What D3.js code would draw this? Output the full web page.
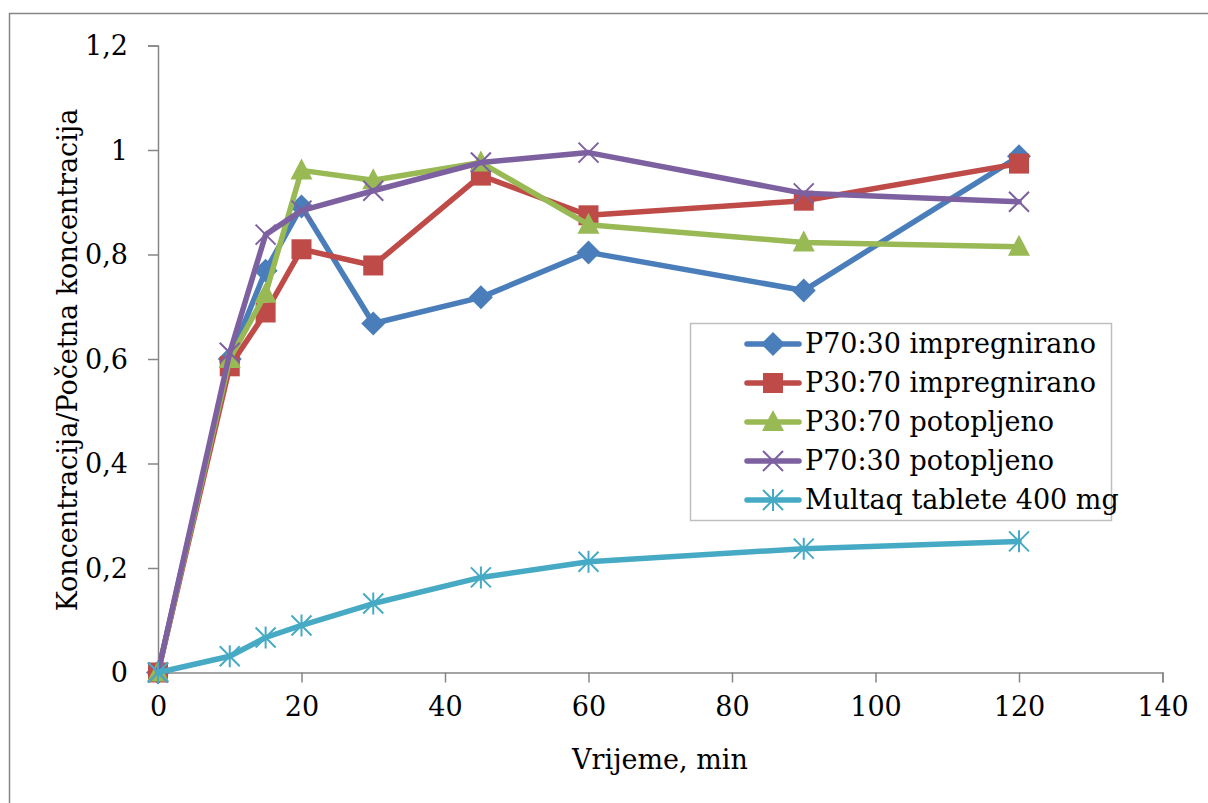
<!DOCTYPE html>
<html>
<head>
<meta charset="utf-8">
<script src="https://cdn.jsdelivr.net/npm/d3@7"></script>
<style>
  html, body { margin: 0; padding: 0; background: #fff; }
  svg text { font-family: "DejaVu Serif", "Liberation Serif", serif; fill: #000; }
</style>
</head>
<body>
<svg id="chart" width="1208" height="803"></svg>
<script>
// Sampling times (min)
const times = [0, 10, 15, 20, 30, 45, 60, 90, 120];

// Series names
const seriesNames = [
  "P70:30 impregnirano",
  "P30:70 impregnirano",
  "P30:70 potopljeno",
  "P70:30 potopljeno",
  "Multaq tablete 400 mg"
];

// Concentration / initial concentration for each series
const p7030Impregnirano = [0, 0.60, 0.769, 0.892, 0.668, 0.718, 0.804, 0.731, 0.988];
const p3070Impregnirano = [0, 0.586, 0.689, 0.810, 0.779, 0.951, 0.875, 0.903, 0.974];
const p3070Potopljeno   = [0, 0.600, 0.725, 0.961, 0.942, 0.976, 0.857, 0.823, 0.815];
const p7030Potopljeno   = [0, 0.612, 0.838, 0.884, 0.922, 0.976, 0.995, 0.917, 0.901];
const multaq            = [0, 0.031, 0.067, 0.090, 0.132, 0.182, 0.212, 0.237, 0.251];

// Axis tick values and labels
const xTicks = [0, 20, 40, 60, 80, 100, 120, 140];
const yTicks = [0, 0.2, 0.4, 0.6, 0.8, 1, 1.2];
const yTickLabels = ["0", "0,2", "0,4", "0,6", "0,8", "1", "1,2"];

const colors = ["#4A7EBB", "#BE4B48", "#98B954", "#7D60A0", "#46AAC5"];
const symbols = ["diamond", "square", "triangle", "x", "asterisk"];
const values = [p7030Impregnirano, p3070Impregnirano, p3070Potopljeno, p7030Potopljeno, multaq];

const FONT = "27px";
const svg = d3.select("#chart");

// Outer chart frame
svg.append("rect")
  .attr("x", 9.5).attr("y", 13.5)
  .attr("width", 1400).attr("height", 1000)
  .attr("fill", "none").attr("stroke", "#868686").attr("stroke-width", 1.5);

const x = d3.scaleLinear().domain([0, 140]).range([158, 1162.5]);
const y = d3.scaleLinear().domain([0, 1.2]).range([672.5, 45.5]);

// Axes
const xAxis = d3.axisBottom(x).tickValues(xTicks).tickSize(10).tickPadding(14).tickFormat(d => d);
const yAxis = d3.axisLeft(y).tickValues(yTicks).tickSize(10).tickPadding(20)
  .tickFormat((d, i) => yTickLabels[i]);

const gx = svg.append("g").attr("transform", "translate(0,672.5)").call(xAxis);
const gy = svg.append("g").attr("transform", "translate(158,0)").call(yAxis);
[gx, gy].forEach(g => {
  g.select(".domain").attr("stroke", "#868686").attr("stroke-width", 1.5);
  g.selectAll(".tick line").attr("stroke", "#868686").attr("stroke-width", 1.5);
  g.selectAll(".tick text").style("font-size", FONT).attr("fill", "#000");
});
gy.selectAll(".tick text").attr("dy", "0.35em");

// Axis titles
svg.append("text")
  .attr("x", 660).attr("y", 769)
  .attr("text-anchor", "middle")
  .style("font-size", FONT)
  .text("Vrijeme, min");

svg.append("text")
  .attr("transform", "translate(77,360) rotate(-90)")
  .attr("text-anchor", "middle")
  .style("font-size", FONT)
  .text("Koncentracija/Početna koncentracija");

// Marker drawing
function drawMarker(g, type, color, cx, cy) {
  if (type === "diamond") {
    g.append("path").attr("d", `M${cx},${cy - 12}L${cx + 12},${cy}L${cx},${cy + 12}L${cx - 12},${cy}Z`)
      .attr("fill", color);
  } else if (type === "square") {
    g.append("rect").attr("x", cx - 10).attr("y", cy - 10)
      .attr("width", 20).attr("height", 20).attr("fill", color);
  } else if (type === "triangle") {
    g.append("path").attr("d", `M${cx},${cy - 12}L${cx + 11},${cy + 9}L${cx - 11},${cy + 9}Z`)
      .attr("fill", color);
  } else if (type === "x") {
    const r = 10;
    g.append("path")
      .attr("d", `M${cx - r},${cy - r}L${cx + r},${cy + r}M${cx - r},${cy + r}L${cx + r},${cy - r}`)
      .attr("stroke", color).attr("stroke-width", 2).attr("fill", "none");
  } else if (type === "asterisk") {
    const r = 10;
    g.append("path")
      .attr("d", `M${cx - r},${cy - r}L${cx + r},${cy + r}M${cx - r},${cy + r}L${cx + r},${cy - r}M${cx},${cy - r - 1}L${cx},${cy + r + 1}`)
      .attr("stroke", color).attr("stroke-width", 2).attr("fill", "none");
  }
}

// Series lines and markers
const plot = svg.append("g");
values.forEach((vals, si) => {
  const pts = times.map((t, i) => [t, vals[i]]);
  const line = d3.line().x(d => x(d[0])).y(d => y(d[1]));
  const g = plot.append("g");
  g.append("path").datum(pts).attr("d", line)
    .attr("fill", "none").attr("stroke", colors[si])
    .attr("stroke-width", 5.5).attr("stroke-linejoin", "round").attr("stroke-linecap", "round");
  pts.forEach(p => drawMarker(g, symbols[si], colors[si], x(p[0]), y(p[1])));
});

// Legend
const legend = svg.append("g");
legend.append("rect")
  .attr("x", 690.5).attr("y", 323.5).attr("width", 421).attr("height", 197)
  .attr("fill", "#fff").attr("stroke", "#BFBFBF").attr("stroke-width", 1.5);
seriesNames.forEach((name, i) => {
  const cy = 344 + i * 39;
  legend.append("line")
    .attr("x1", 747).attr("x2", 799).attr("y1", cy).attr("y2", cy)
    .attr("stroke", colors[i]).attr("stroke-width", 5.5).attr("stroke-linecap", "round");
  drawMarker(legend, symbols[i], colors[i], 773, cy);
  legend.append("text")
    .attr("x", 805).attr("y", cy).attr("dy", "0.35em")
    .style("font-size", FONT)
    .text(name);
});
</script>
</body>
</html>
